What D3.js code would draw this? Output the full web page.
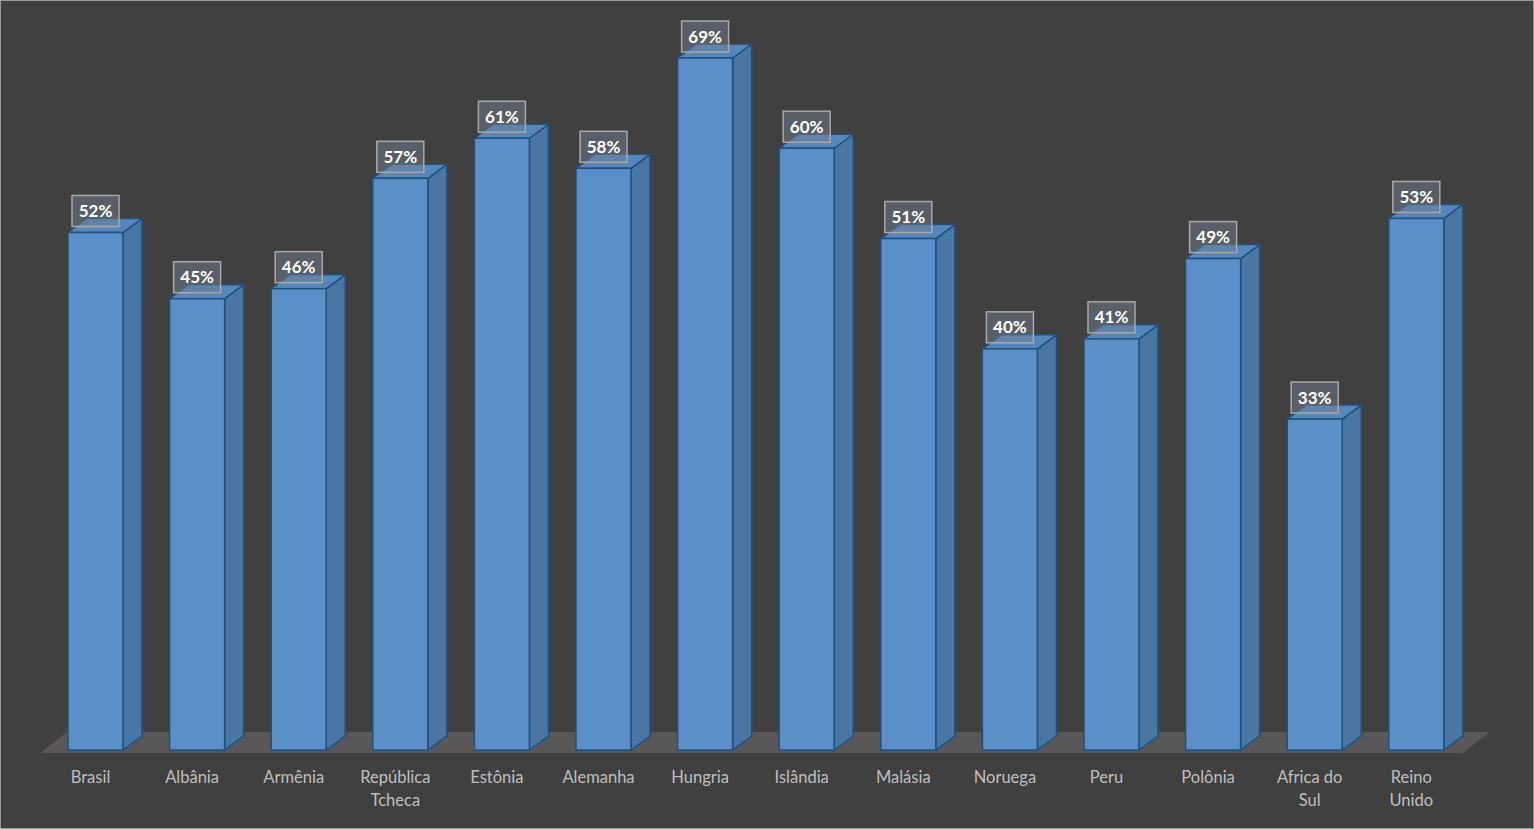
<!DOCTYPE html>
<html><head><meta charset="utf-8">
<script src="https://cdn.jsdelivr.net/npm/d3@7"></script>
<style>html,body{margin:0;padding:0;background:#404040;overflow:hidden}</style>
</head><body><svg id="c" width="1534" height="829"></svg>
<script>
const categories = ["Brasil","Albânia","Armênia","República Tcheca","Estônia","Alemanha","Hungria","Islândia","Malásia","Noruega","Peru","Polônia","Africa do Sul","Reino Unido"];
const categoryLines = [["Brasil"],["Albânia"],["Armênia"],["República","Tcheca"],["Estônia"],["Alemanha"],["Hungria"],["Islândia"],["Malásia"],["Noruega"],["Peru"],["Polônia"],["Africa do","Sul"],["Reino","Unido"]];
const values = [51.6,45,46,57,61,58,69,60,51,40,41,49,33,53];

const svg = d3.select("#c");
const W = 1534, H = 829;
svg.append("rect").attr("x",0.5).attr("y",0.5).attr("width",W-1).attr("height",H-1)
  .attr("fill","#404040").attr("stroke","#9a9a9a").attr("stroke-width",1);

const x = d3.scaleBand().domain(categories).range([45,1466.8]).paddingInner(0.4587).paddingOuter(0.2264);
const y = d3.scaleLinear().domain([0,69]).range([750,58]);
const dx = 19, dy = 14;

// floor
const fl = x.range()[0], fr = x.range()[1];
svg.append("polygon")
  .attr("points", [[fl-5,753],[fl+22,732],[fr+23,732],[fr-4,753]].map(p=>p.join(",")).join(" "))
  .attr("fill","#595757");

const g = svg.append("g");
const bars = g.selectAll("g.bar").data(values).join("g").attr("class","bar");
bars.each(function(v,i){
  const gg = d3.select(this);
  const x0 = x(categories[i]), x1 = x0 + x.bandwidth();
  const yt = y(v), yb = y(0);
  gg.append("polygon")
    .attr("points",[[x1,yt],[x1+dx,yt-dy],[x1+dx,yb-dy],[x1,yb]].map(p=>p.join(",")).join(" "))
    .attr("fill","#4a76a4").attr("stroke","#22507e").attr("stroke-width",1.5).attr("stroke-linejoin","round");
  gg.append("polygon")
    .attr("points",[[x0,yt],[x0+dx,yt-dy],[x1+dx,yt-dy],[x1,yt]].map(p=>p.join(",")).join(" "))
    .attr("fill","#5587bf").attr("stroke","#22507e").attr("stroke-width",1.5).attr("stroke-linejoin","round");
  gg.append("rect").attr("x",x0).attr("y",yt).attr("width",x.bandwidth()).attr("height",yb-yt)
    .attr("fill","#5b8fc8").attr("stroke","#22507e").attr("stroke-width",1.5);
});

// data labels
const lab = svg.append("g").selectAll("g").data(values).join("g");
lab.each(function(v,i){
  const gg = d3.select(this);
  const cx = x(categories[i]) + x.bandwidth()/2;
  const yt = y(v);
  gg.append("rect").attr("x",cx-23.5).attr("y",yt-37).attr("width",47).attr("height",31)
    .attr("fill","rgba(112,126,146,0.5)").attr("stroke","#a8a8a8").attr("stroke-width",1.5);
  gg.append("text").attr("x",cx).attr("y",yt-15.5).attr("text-anchor","middle")
    .attr("font-family","Lato, 'Open Sans', sans-serif").attr("font-weight","bold").attr("font-size",17)
    .attr("fill","#ffffff").text(Math.round(v)+"%");
});

// category labels
const cl = svg.append("g").selectAll("text").data(categoryLines).join("text")
  .attr("x",(d,i)=>x(categories[i]) + x.bandwidth()/2 - 5)
  .attr("y",783).attr("text-anchor","middle")
  .attr("font-family","Lato, 'Open Sans', sans-serif").attr("font-size",16.5)
  .attr("fill","#bfbfbf");
cl.each(function(lines){
  const t = d3.select(this);
  lines.forEach((l,k)=>t.append("tspan").attr("x",t.attr("x")).attr("dy",k===0?0:23).text(l));
});
</script></body></html>
